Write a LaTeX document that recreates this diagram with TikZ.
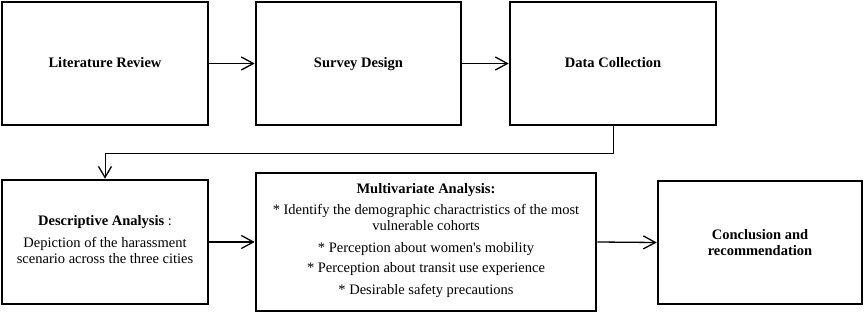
\documentclass[tikz,border=0pt]{standalone}
\usepackage{fontspec}
\setmainfont{Liberation Serif}
\usetikzlibrary{arrows.meta}
\begin{document}
\begin{tikzpicture}[x=1pt,y=-1pt,
  box/.style={draw=black, line width=2.6pt, align=center, inner sep=0pt,
    font=\fontsize{14.5}{16}\selectfont},
  oneline/.style={text height=10pt, text depth=3pt},
  flow/.style={line width=1.3pt, -{Straight Barb[length=12pt,width=13pt,line width=1.3pt]}},
  conn/.style={line width=1pt, -{Straight Barb[length=11pt,width=13pt,line width=1.3pt]}}]
\useasboundingbox (0,0) rectangle (865,313);
\node[box, oneline, minimum width=206pt, minimum height=123pt] (lr) at (105,63.5) {\bfseries Literature Review};
\node[box, oneline, minimum width=205pt, minimum height=123pt] (sd) at (358.5,63.5) {\bfseries Survey Design};
\node[box, oneline, minimum width=206pt, minimum height=123pt] (dc) at (613,63.5) {\bfseries Data Collection};
\node[box, minimum width=206pt, minimum height=124pt] (da) at (105,242) {};
\node[align=center, font=\fontsize{14.5}{16}\selectfont] (dat) at (105,240) {\textbf{Descriptive Analysis} :\\[6pt]Depiction of the harassment\\scenario across the three cities};
\node[box, minimum width=340pt, minimum height=138pt] (ma) at (426,242) {};
\node[align=center, font=\fontsize{14.5}{16}\selectfont] (mat) at (426,241) {\textbf{Multivariate Analysis:}\\[5pt]* Identify the demographic charactristics of the most\\vulnerable cohorts\\[6pt]* Perception about women\textquotesingle s mobility\\[4pt]* Perception about transit use experience\\[6pt]* Desirable safety precautions};
\node[box, minimum width=204pt, minimum height=123pt] (cr) at (760,242.5) {\bfseries Conclusion and\\\bfseries recommendation};
\draw[flow] (lr.east) -- (sd.west);
\draw[flow] (sd.east) -- (dc.west);
\draw[flow] (da.east) -- (ma.west);
\draw[flow] (ma.east) -- (cr.west);
\draw[conn] (dc.south) -- ++(0,27) -| (da.north);
\end{tikzpicture}
\end{document}
